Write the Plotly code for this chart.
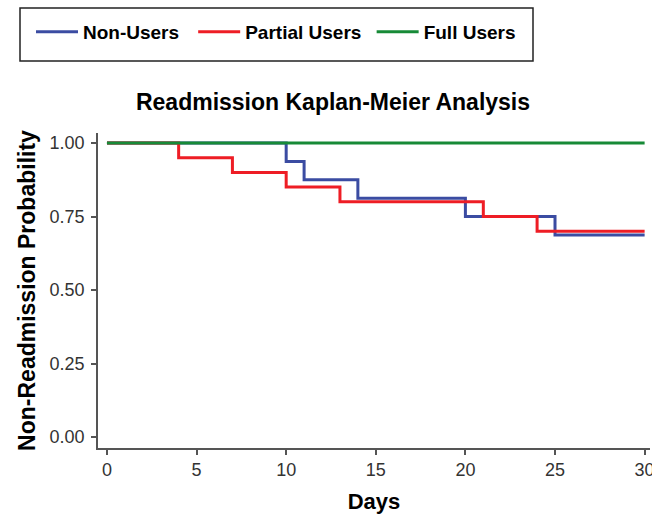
import plotly.graph_objects as go

# Kaplan-Meier step data (days, survival probability)
non_users_days = [0, 10, 11, 14, 20, 25, 30]
non_users_surv = [1.0, 0.9375, 0.875, 0.8125, 0.75, 0.6875, 0.6875]

partial_days = [0, 4, 7, 10, 13, 21, 24, 30]
partial_surv = [1.0, 0.95, 0.90, 0.85, 0.80, 0.75, 0.70, 0.70]

full_days = [0, 30]
full_surv = [1.0, 1.0]

x_ticks = [0, 5, 10, 15, 20, 25, 30]
y_ticks = [0.0, 0.25, 0.5, 0.75, 1.0]
y_tick_labels = ["0.00", "0.25", "0.50", "0.75", "1.00"]

FONT = "Liberation Sans, Arial, sans-serif"

W, H = 652, 518
L, R, T, B = 98, 2, 133, 70
PW, PH = W - L - R, H - T - B

fig = go.Figure()
fig.add_trace(go.Scatter(x=non_users_days, y=non_users_surv, mode="lines",
                         line=dict(shape="hv", color="#3B4CA2", width=3),
                         name="<b>Non-Users</b>\u00a0\u2009"))
fig.add_trace(go.Scatter(x=partial_days, y=partial_surv, mode="lines",
                         line=dict(shape="hv", color="#EE1D25", width=3),
                         name="<b>Partial Users</b>\u00a0"))
fig.add_trace(go.Scatter(x=full_days, y=full_surv, mode="lines",
                         line=dict(shape="hv", color="#178A37", width=3),
                         name="<b>Full Users</b>"))

# legend frame
fig.add_shape(type="rect", xref="paper", yref="paper",
              x0=(20 - L) / PW, x1=(533 - L) / PW,
              y0=(H - B - 61) / PH, y1=(H - B - 8) / PH,
              line=dict(color="#222", width=1.5), fillcolor="rgba(0,0,0,0)")

fig.update_layout(
    width=W, height=H,
    margin=dict(l=L, r=R, t=T, b=B, autoexpand=False),
    paper_bgcolor="white", plot_bgcolor="white",
    font=dict(family=FONT, color="black"),
    title=dict(text="<b>Readmission Kaplan-Meier Analysis</b>",
               font=dict(family=FONT, size=23, color="black"),
               x=333 / W, xanchor="center", xref="container",
               y=1 - 102 / H, yanchor="middle", yref="container"),
    legend=dict(orientation="h", xref="container", yref="container",
                x=31 / W, xanchor="left", y=1 - 32 / H, yanchor="middle",
                borderwidth=0, bgcolor="rgba(0,0,0,0)",
                font=dict(family=FONT, size=19, color="black"),
                itemwidth=42, tracegroupgap=0),
    showlegend=True,
)

fig.update_xaxes(
    range=[-0.5, 30.3], tickvals=x_ticks, showgrid=False, zeroline=False,
    showline=True, linecolor="#555", linewidth=1.5, automargin=False,
    ticks="outside", ticklen=5, tickcolor="#555", tickwidth=1.5,
    ticklabeloverflow="allow",
    tickfont=dict(family=FONT, size=18, color="#333"),
    title=dict(text="<b>Days</b>", font=dict(family=FONT, size=22, color="black"),
               standoff=14),
)
fig.update_yaxes(
    range=[-0.037, 1.034], tickvals=y_ticks, ticktext=y_tick_labels,
    showgrid=False, zeroline=False, automargin=False,
    showline=True, linecolor="#555", linewidth=1.5,
    ticks="outside", ticklen=5, tickcolor="#555", tickwidth=1.5,
    ticklabeloverflow="allow", ticklabelstandoff=3,
    tickfont=dict(family=FONT, size=18, color="#333"),
    title=dict(text="<b>Non-Readmission Probability</b>",
               font=dict(family=FONT, size=23, color="black"), standoff=8),
)

fig.write_html("out.html", config={"displayModeBar": False},
               post_script="document.body.style.margin='0';")
